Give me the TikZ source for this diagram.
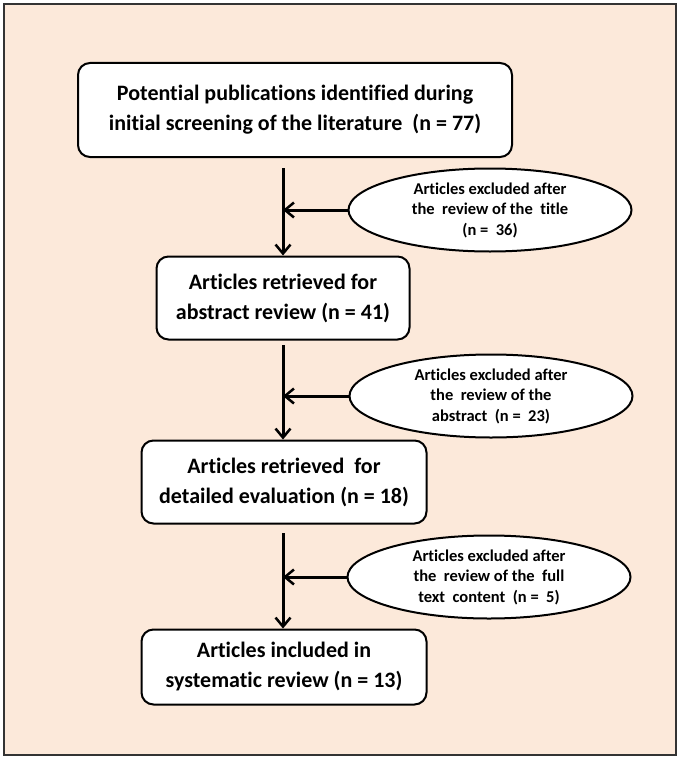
\documentclass[tikz,border=0pt]{standalone}
\usepackage{fontspec}
\setmainfont{Carlito}[Ligatures=NoCommon]
\usetikzlibrary{arrows.meta}
\usetikzlibrary{shapes.geometric}
\definecolor{peach}{HTML}{FCE9DA}
\definecolor{framegray}{HTML}{333333}
\tikzset{stage/.style={rectangle, rounded corners=12pt, draw, line width=2pt, fill=white,
   align=center, font=\bfseries\fontsize{22}{30}\selectfont, inner sep=0pt}}
\tikzset{drop/.style={ellipse, draw, line width=2pt, fill=white, align=center,
   minimum width=283pt, minimum height=83pt, inner sep=0pt,
   font=\bfseries\fontsize{16.5}{20.5}\selectfont}}
\tikzset{flow/.style={line width=3pt, -{Straight Barb[length=9pt,width=15pt,line width=2.5pt]}}}

\begin{document}
\begin{tikzpicture}[x=1pt, y=-1pt]

    \fill[white] (0,0) rectangle (680,760);
    \draw[framegray, fill=peach, line width=2pt] (4,4) rectangle (676,755);

    \node[stage, minimum width=434pt, minimum height=94pt] (b1) at (295,110)
        {Potential publications identified during\\initial screening of the literature ~(n = 77)};
    \node[stage, minimum width=253pt, minimum height=83pt] (b2) at (283,298)
        {Articles retrieved for\\abstract review (n = 41)};
    \node[stage, minimum width=285pt, minimum height=83pt] (b3) at (284,482)
        {Articles retrieved ~for\\detailed evaluation (n = 18)};
    \node[stage, minimum width=285pt, minimum height=75pt] (b4) at (284,667)
        {Articles included in\\systematic review (n = 13)};

    \node[drop] (e1) at (490,210) {Articles excluded after\\the ~review of the ~title\\(n = ~36)};
    \node[drop] (e2) at (491,396) {Articles excluded after\\the ~review of the\\abstract ~(n = ~23)};
    \node[drop] (e3) at (489,577) {Articles excluded after\\the ~review of the ~full\\text ~content ~(n = ~5)};

    \coordinate (s1) at (283,168);
    \coordinate (s2) at (283,345);
    \coordinate (s3) at (283,533);

    \draw[flow] (s1) -- (s1 |- b2.north);
    \draw[flow] (s2) -- (s2 |- b3.north);
    \draw[flow] (s3) -- (s3 |- b4.north);

    \draw[flow] (e1.west) -- (e1.west -| s1);
    \draw[flow] (e2.west) -- (e2.west -| s2);
    \draw[flow] (e3.west) -- (e3.west -| s3);

  \end{tikzpicture}
\end{document}
